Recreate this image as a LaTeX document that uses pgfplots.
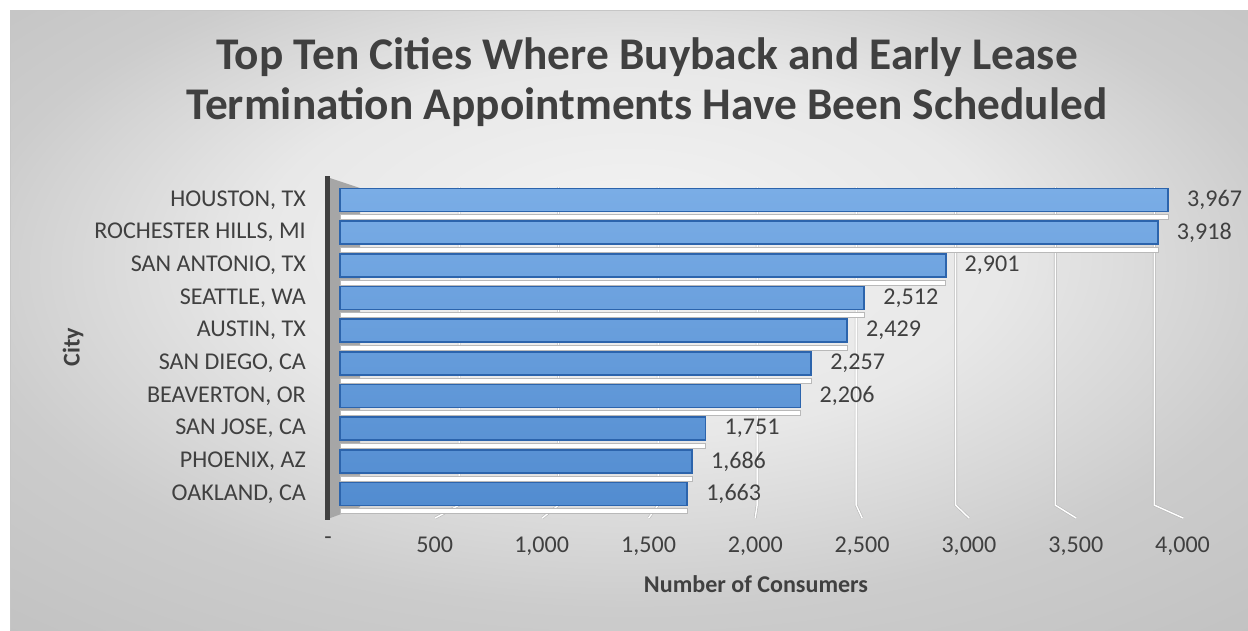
\documentclass[border=0pt]{standalone}
\usepackage{fontspec}
\setmainfont{Carlito}
\usepackage{pgfplots}
\pgfplotsset{compat=1.18}

\definecolor{txt}{RGB}{64,64,64}
\definecolor{bartop}{RGB}{122,173,230}
\definecolor{barbot}{RGB}{82,140,208}
\definecolor{baredge}{RGB}{44,100,172}
\definecolor{wall}{RGB}{166,166,166}
\definecolor{gridc}{RGB}{185,185,185}
\definecolor{bg0}{gray}{0.95}
\definecolor{bg1}{gray}{0.91}
\definecolor{bg2}{gray}{0.80}
\definecolor{bg3}{gray}{0.75}
\pgfdeclareradialshading{bgshade}{\pgfpoint{0bp}{8bp}}{color(0bp)=(bg0); color(15bp)=(bg1); color(27bp)=(bg2); color(40bp)=(bg3); color(50bp)=(bg3)}

\begin{document}
\begin{tikzpicture}
\path[use as bounding box] (0,0) rectangle (24.96cm,12.6cm);
\fill[white] (0,0) rectangle (24.96cm,12.6cm);

% background and 3D decoration, in pixel units from the top left
\begin{scope}[shift={(0,12.6cm)}, x=0.02cm, y=-0.02cm]
  \shade[shading=bgshade] (10,10) rectangle (1248,630);
  \draw[gray!45, line width=0.4pt] (10,630) -- (10,10) -- (1248,10);
  \fill[wall] (330,178) -- (360,188) -- (360,507) -- (330,518) -- cycle;
  \foreach \g/\f in {459/435, 558.5/542, 658/648.5, 757/755, 856/862, 955.5/969, 1055/1076, 1154/1183}
    \draw[gridc, line width=0.35pt, double=white, double distance=0.8pt] (\g,187) -- (\g,505) -- (\f,518);
  \draw[black!75, line width=2.8pt] (327,176) -- (327,520);
\end{scope}

\begin{axis}[
  at={(6.55cm,2.328cm)}, anchor=south west,
  scale only axis, width=17.158cm, height=6.664cm,
  xmin=-60, xmax=4050, ymin=-0.6, ymax=9.6,
  axis line style={draw=none}, tick style={draw=none},
  ytick={0,...,9},
  yticklabels={{OAKLAND, CA},{PHOENIX, AZ},{SAN JOSE, CA},{BEAVERTON, OR},{SAN DIEGO, CA},{AUSTIN, TX},{SEATTLE, WA},{SAN ANTONIO, TX},{ROCHESTER HILLS, MI},{HOUSTON, TX}},
  xtick={-57.5,454,966,1478,1989.5,2501,3013,3525,4036},
  xticklabels={-,500,{1,000},{1,500},{2,000},{2,500},{3,000},{3,500},{4,000}},
  tick label style={font=\fontsize{13.7}{16}\selectfont, text=txt},
  yticklabel style={xshift=-0.31cm},
  xticklabel style={yshift=-0.35cm},
  title={Top Ten Cities Where Buyback and Early Lease\\Termination Appointments Have Been Scheduled},
  title style={at={(axis description cs:0.3724,1.2623)}, anchor=center, align=center,
    font=\fontsize{25.8}{28.35}\selectfont\bfseries, text=txt},
  xlabel={Number of Consumers},
  xlabel style={at={(axis description cs:0.4995,-0.2113)}, anchor=center,
    font=\fontsize{13.7}{16}\selectfont\bfseries, text=txt},
  ylabel={City},
  ylabel style={at={(axis description cs:-0.2967,0.5)}, anchor=center,
    font=\fontsize{13.7}{16}\selectfont\bfseries, text=txt},
]
% light strip under each bar (3D depth)
\addplot[xbar, bar width=0.1cm, bar shift=-0.34cm, fill=white, draw=gridc, line width=0.3pt]
  coordinates {(1663,0) (1686,1) (1751,2) (2206,3) (2257,4) (2429,5) (2512,6) (2901,7) (3918,8) (3967,9)};
\addplot[xbar, bar width=0.46cm, bar shift=0pt, top color=bartop, bottom color=barbot, draw=baredge, line width=1.1pt,
  point meta=x,
  nodes near coords={\pgfmathprintnumber[assume math mode=true,1000 sep={,}]{\pgfplotspointmeta}},
  nodes near coords style={anchor=west, xshift=7pt, font=\fontsize{13.7}{16}\selectfont, text=txt}]
  coordinates {(1663,0) (1686,1) (1751,2) (2206,3) (2257,4) (2429,5) (2512,6) (2901,7) (3918,8) (3967,9)};
\end{axis}
\end{tikzpicture}
\end{document}
